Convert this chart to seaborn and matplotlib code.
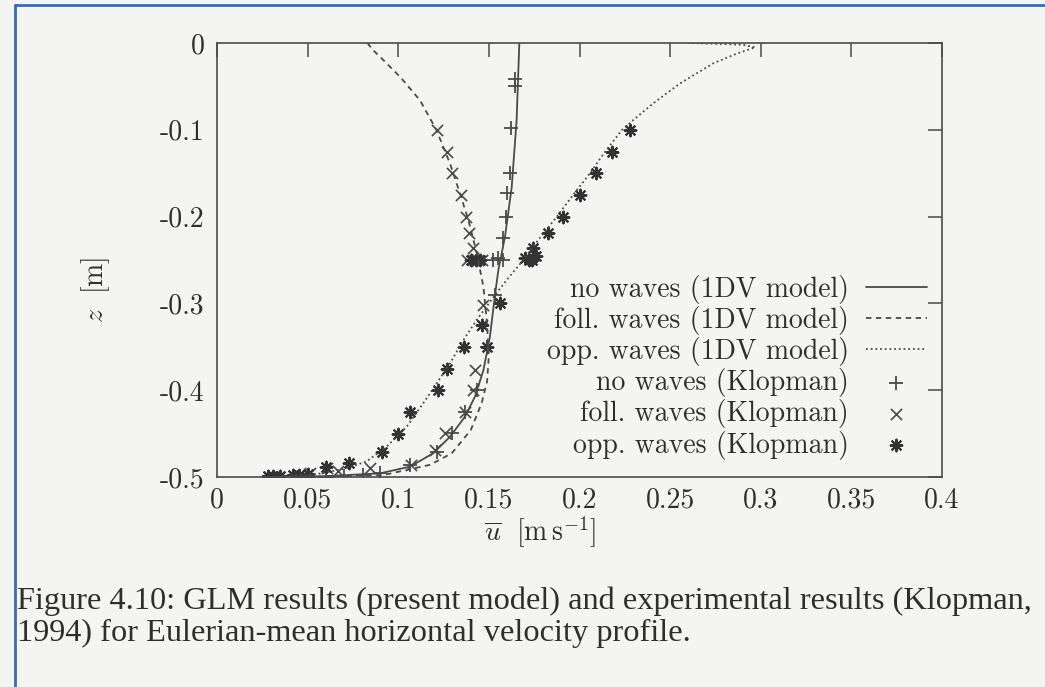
import matplotlib
matplotlib.use("Agg")
import matplotlib.pyplot as plt
import seaborn as sns
from matplotlib.lines import Line2D
from matplotlib.ticker import FixedLocator, FixedFormatter

# ---------------- data ----------------
# 1DV model curves: u [m/s] vs z [m]
nw_model_z = [0, -0.089, -0.166, -0.223, -0.262, -0.290, -0.338, -0.377, -0.4075, -0.4305,
              -0.4535, -0.4727, -0.488, -0.4958, -0.499, -0.5]
nw_model_u = [0.1668, 0.1653, 0.1626, 0.1589, 0.1552, 0.1534, 0.1506, 0.147, 0.1423, 0.1368,
              0.1286, 0.1193, 0.1065, 0.090, 0.060, 0.030]

fw_model_z = [0, -0.008, -0.016, -0.039, -0.066, -0.100, -0.139, -0.173, -0.204, -0.242,
              -0.281, -0.319, -0.36, -0.39, -0.415, -0.446, -0.4727, -0.486, -0.494, -0.4977, -0.5]
fw_model_u = [0.083, 0.086, 0.090, 0.101, 0.112, 0.121, 0.1286, 0.134, 0.1387, 0.1433,
              0.147, 0.1488, 0.150, 0.149, 0.146, 0.140, 0.1295, 0.1175, 0.100, 0.092, 0.050]

ow_model_z = [0, -0.002, -0.005, -0.012, -0.0234, -0.0465, -0.0695, -0.0887, -0.100, -0.127,
              -0.150, -0.175, -0.200, -0.225, -0.250, -0.270, -0.290, -0.319, -0.342, -0.369,
              -0.392, -0.415, -0.442, -0.465, -0.482, -0.490, -0.496, -0.5]
ow_model_u = [0.262, 0.290, 0.297, 0.287, 0.2738, 0.2555, 0.2407, 0.2297, 0.2235, 0.2135,
              0.2058, 0.1965, 0.1875, 0.178, 0.169, 0.161, 0.1535, 0.1433, 0.136, 0.1286,
              0.1212, 0.1138, 0.1047, 0.0936, 0.0826, 0.0716, 0.0568, 0.030]

# Klopman (1994) measurements
nw_exp_u = [0.1645, 0.1645, 0.162, 0.1617, 0.160, 0.1595, 0.1576, 0.155, 0.152, 0.158,
            0.1534, 0.1488, 0.1433, 0.1368, 0.1295, 0.1212, 0.1065, 0.0899, 0.0806, 0.070, 0.060]
nw_exp_z = [-0.041, -0.050, -0.098, -0.150, -0.173, -0.200, -0.225, -0.248, -0.250, -0.250,
            -0.290, -0.350, -0.400, -0.4247, -0.4497, -0.471, -0.486, -0.495, -0.4977, -0.499, -0.4995]

fw_exp_u = [0.1212, 0.1267, 0.1295, 0.1346, 0.1372, 0.1392, 0.1414, 0.138, 0.141, 0.144, 0.146,
            0.1466, 0.146, 0.1423, 0.1414, 0.137, 0.1258, 0.1203, 0.107, 0.0844, 0.067, 0.0605,
            0.0513, 0.045]
fw_exp_z = [-0.100, -0.125, -0.150, -0.175, -0.200, -0.219, -0.236, -0.250, -0.250, -0.250, -0.250,
            -0.302, -0.325, -0.377, -0.400, -0.4255, -0.4497, -0.469, -0.486, -0.490, -0.493, -0.490,
            -0.4954, -0.498]

ow_exp_u = [0.2279, 0.2178, 0.2091, 0.2003, 0.1907, 0.1828, 0.1745, 0.170, 0.172, 0.174, 0.176,
            0.140, 0.143, 0.145, 0.156, 0.146, 0.1488, 0.136, 0.1267, 0.1221, 0.1065, 0.100,
            0.0909, 0.073, 0.060, 0.050, 0.045, 0.042, 0.035, 0.031, 0.028]
ow_exp_z = [-0.100, -0.125, -0.150, -0.175, -0.200, -0.219, -0.236, -0.248, -0.250, -0.250, -0.245,
            -0.250, -0.250, -0.250, -0.300, -0.325, -0.350, -0.350, -0.376, -0.400, -0.4255, -0.4505,
            -0.471, -0.484, -0.489, -0.497, -0.498, -0.498, -0.499, -0.499, -0.499]

labels = ["no waves (1DV model)", "foll. waves (1DV model)", "opp. waves (1DV model)",
          "no waves (Klopman)", "foll. waves (Klopman)", "opp. waves (Klopman)"]

x_ticks = [0, 0.05, 0.1, 0.15, 0.2, 0.25, 0.3, 0.35, 0.4]
x_tick_labels = ["0", "0.05", "0.1", "0.15", "0.2", "0.25", "0.3", "0.35", "0.4"]
y_ticks = [0, -0.1, -0.2, -0.3, -0.4, -0.5]
y_tick_labels = ["0", "-0.1", "-0.2", "-0.3", "-0.4", "-0.5"]

caption_lines = ["Figure 4.10: GLM results (present model) and experimental results (Klopman,",
                 "1994) for Eulerian-mean horizontal velocity profile."]

# ---------------- style ----------------
sns.set_theme(style="white")
plt.rcParams["font.family"] = ["cmr10", "DejaVu Serif"]
plt.rcParams["mathtext.fontset"] = "cm"
plt.rcParams["axes.unicode_minus"] = False

BG = "#f4f4f2"
INK = "#4a4a4a"
TXT = "#2e2e2e"
FS = 20

fig = plt.figure(figsize=(10.45, 6.87), dpi=100, facecolor=BG)
ax = fig.add_axes([217 / 1045, 1 - 477 / 687, 725 / 1045, 434 / 687])
ax.set_facecolor(BG)

# model curves
sns.lineplot(x=nw_model_u, y=nw_model_z, sort=False, estimator=None, color=INK,
             lw=1.3, ls="-", label=labels[0], ax=ax)
sns.lineplot(x=fw_model_u, y=fw_model_z, sort=False, estimator=None, color=INK,
             lw=1.3, ls=(0, (3, 2.5)), label=labels[1], ax=ax)
sns.lineplot(x=ow_model_u, y=ow_model_z, sort=False, estimator=None, color=INK,
             lw=1.3, ls=(0, (1, 1.6)), label=labels[2], ax=ax)

# measurements
sns.scatterplot(x=nw_exp_u, y=nw_exp_z, marker="+", s=90, color=INK, linewidth=1.3,
                label=labels[3], ax=ax)
sns.scatterplot(x=fw_exp_u, y=fw_exp_z, marker="x", s=65, color=INK, linewidth=1.2,
                label=labels[4], ax=ax)
sns.scatterplot(x=ow_exp_u, y=ow_exp_z, marker=(8, 2, 0), s=70, color="#333333", linewidth=1.5,
                label=labels[5], ax=ax)

ax.set_xlim(0, 0.4)
ax.set_ylim(-0.5, 0)
ax.xaxis.set_major_locator(FixedLocator(x_ticks))
ax.xaxis.set_major_formatter(FixedFormatter(x_tick_labels))
ax.yaxis.set_major_locator(FixedLocator(y_ticks))
ax.yaxis.set_major_formatter(FixedFormatter(y_tick_labels))
ax.tick_params(direction="in", length=10, width=1.1, color=INK, top=True, right=True,
               labelsize=FS, labelcolor=TXT)
ax.tick_params(axis="x", pad=7)
ax.tick_params(axis="y", pad=9)
for sp in ax.spines.values():
    sp.set_visible(True)
    sp.set_color(INK)
    sp.set_linewidth(1.2)

ax.set_xlabel(r"$\overline{u}\ \ [\mathrm{m\,s}^{-1}]$", fontsize=FS, color=TXT)
ax.set_ylabel(r"$z\ \ [\mathrm{m}]$", fontsize=FS, color=TXT)
ax.xaxis.set_label_coords(0.4455, -0.086)
ax.yaxis.set_label_coords(-0.145, 0.431)

leg = ax.legend(loc="lower right", bbox_to_anchor=(0.998, 0.008), markerfirst=False,
                frameon=False, fontsize=FS, handlelength=2.2, handletextpad=0.6,
                labelspacing=0.08, borderpad=0.0, scatterpoints=1)
for t in leg.get_texts():
    t.set_color(TXT)

# caption
cap_font = ["Liberation Serif", "DejaVu Serif"]
fig.text(17 / 1045, 1 - 609 / 687, caption_lines[0], fontsize=23.3, color=TXT,
         family=cap_font, va="baseline", ha="left")
fig.text(17 / 1045, 1 - 641 / 687, caption_lines[1], fontsize=23.3, color=TXT,
         family=cap_font, va="baseline", ha="left")

# blue page frame
blue = "#3b6ea6"
fig.add_artist(Line2D([14.5 / 1045, 14.5 / 1045], [0, 1 - 4.5 / 687], transform=fig.transFigure,
                      color=blue, lw=2))
fig.add_artist(Line2D([14.5 / 1045, 1], [1 - 4.5 / 687, 1 - 4.5 / 687], transform=fig.transFigure,
                      color=blue, lw=2))

fig.savefig("out.png", dpi=100, facecolor=BG)
